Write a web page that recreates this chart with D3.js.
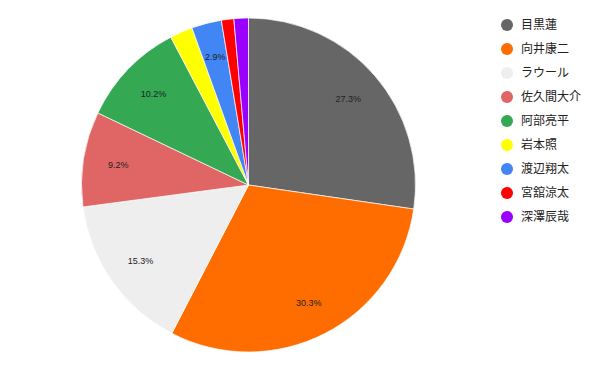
<!DOCTYPE html>
<html><head><meta charset="utf-8">
<script src="https://cdn.jsdelivr.net/npm/d3@7"></script>
<style>
html,body{margin:0;padding:0;background:#fff;}
svg{display:block;}
</style></head>
<body>
<svg id="chart" width="600" height="371"></svg>
<script>
const names = ["目黒蓮","向井康二","ラウール","佐久間大介","阿部亮平","岩本照","渡辺翔太","宮舘涼太","深澤辰哉"];
const values = [27.3, 30.3, 15.3, 9.2, 10.2, 2.2, 2.9, 1.2, 1.4];
const colors = ["#666666","#ff6d01","#eeeeee","#e06666","#34a853","#ffff00","#4285f4","#ff0000","#9900ff"];

const svg = d3.select("#chart");
const cx = 248.5, cy = 185, r = 167;
const g = svg.append("g").attr("transform", `translate(${cx},${cy})`);
const pie = d3.pie().sort(null).value(d => d)(values);
const arc = d3.arc().innerRadius(0).outerRadius(r);
const labelArc = d3.arc().innerRadius(r*0.79).outerRadius(r*0.79);
const total = d3.sum(values);

g.selectAll("path").data(pie).join("path")
  .attr("d", arc)
  .attr("fill", (d,i) => colors[i])
  .attr("stroke", "#fff").attr("stroke-width", 0.7);

g.selectAll("text").data(pie.filter(d => d.value/total >= 0.025)).join("text")
  .attr("transform", d => `translate(${labelArc.centroid(d)})`)
  .attr("text-anchor", "middle").attr("dy", "0.35em")
  .attr("font-family", "Liberation Sans, Arial, sans-serif")
  .attr("font-size", 9).attr("fill", "#222")
  .text(d => d3.format(".1f")(d.value/total*100) + "%");

const y = d3.scalePoint().domain(names).range([25, 217]);
const lg = svg.append("g");
const items = lg.selectAll("g").data(names).join("g")
  .attr("transform", d => `translate(507,${y(d)})`);
items.append("circle").attr("r", 6).attr("fill", (d,i) => colors[i]);
items.append("text").attr("x", 14).attr("dy", "0.36em")
  .attr("font-family", "Noto Sans CJK JP, sans-serif").attr("font-size", 12).attr("fill", "#222")
  .text(d => d);
</script>
</body></html>
